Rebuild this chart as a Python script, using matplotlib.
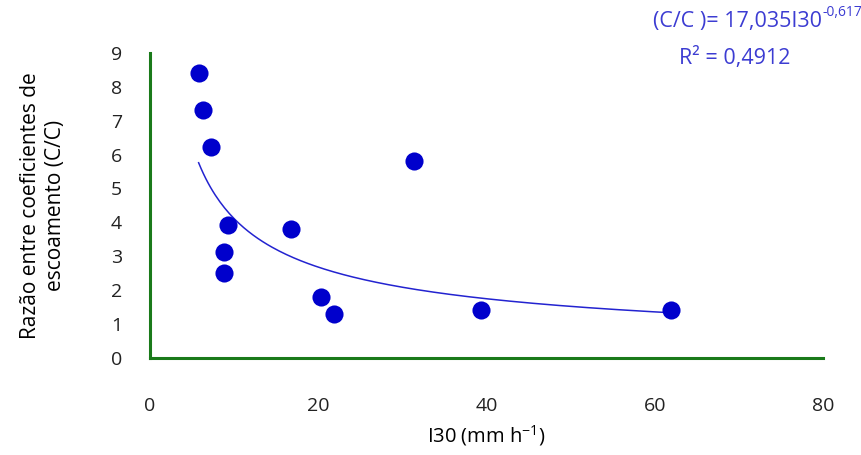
import numpy as np
import matplotlib.pyplot as plt

# I30 (mm/h) vs runoff coefficient ratio (C/C)
i30 = [5.8, 6.3, 7.25, 31.4, 9.3, 16.8, 8.8, 8.8, 20.3, 21.9, 39.4, 61.9]
ratio = [8.41, 7.32, 6.22, 5.81, 3.92, 3.80, 3.13, 2.51, 1.80, 1.30, 1.42, 1.42]

# power trendline reported on the chart
coef_a = 17.035
coef_b = -0.617

plt.rcParams['font.family'] = ['Open Sans', 'DejaVu Sans']
plt.rcParams['mathtext.default'] = 'regular'

fig = plt.figure(figsize=(8.61, 4.55), dpi=100)
ax = fig.add_axes([0.174, 0.213, 0.782, 0.671])

xs = np.linspace(min(i30), max(i30), 200)
ax.plot(xs, coef_a * xs ** coef_b, color='#2323d0', lw=1.1, zorder=2)
ax.scatter(i30, ratio, s=170, color='#0000cc', zorder=3, linewidths=0)

ax.set_xlim(0, 80)
ax.set_ylim(0, 9)
ax.set_xticks(np.arange(0, 81, 20))
ax.set_yticks(np.arange(0, 10, 1))
ax.tick_params(length=0, labelsize=14, colors='#222222')
ax.tick_params(axis='x', pad=28)
ax.tick_params(axis='y', pad=20)

for side in ['top', 'right']:
    ax.spines[side].set_visible(False)
for side in ['left', 'bottom']:
    ax.spines[side].set_color('#1a7a1a')
    ax.spines[side].set_linewidth(2.2)

ax.set_xlabel('I30 (mm h$^{-1}$)', fontsize=14.5, labelpad=6)
ax.set_ylabel('Razão entre coeficientes de\nescoamento (C/C)', fontsize=15,
              labelpad=32, linespacing=1.25)

eq_color = '#3c3cd2'
fig.text(0.955, 0.94, '(C/C )= 17,035I30', color=eq_color,
         fontsize=15.5, ha='right', va='baseline')
fig.text(0.955, 0.965, '-0,617', color=eq_color,
         fontsize=10, ha='left', va='baseline')
fig.text(0.853, 0.872, 'R² = 0,4912', color=eq_color,
         fontsize=15.5, ha='center', va='center')

fig.savefig('out.png', dpi=100)
